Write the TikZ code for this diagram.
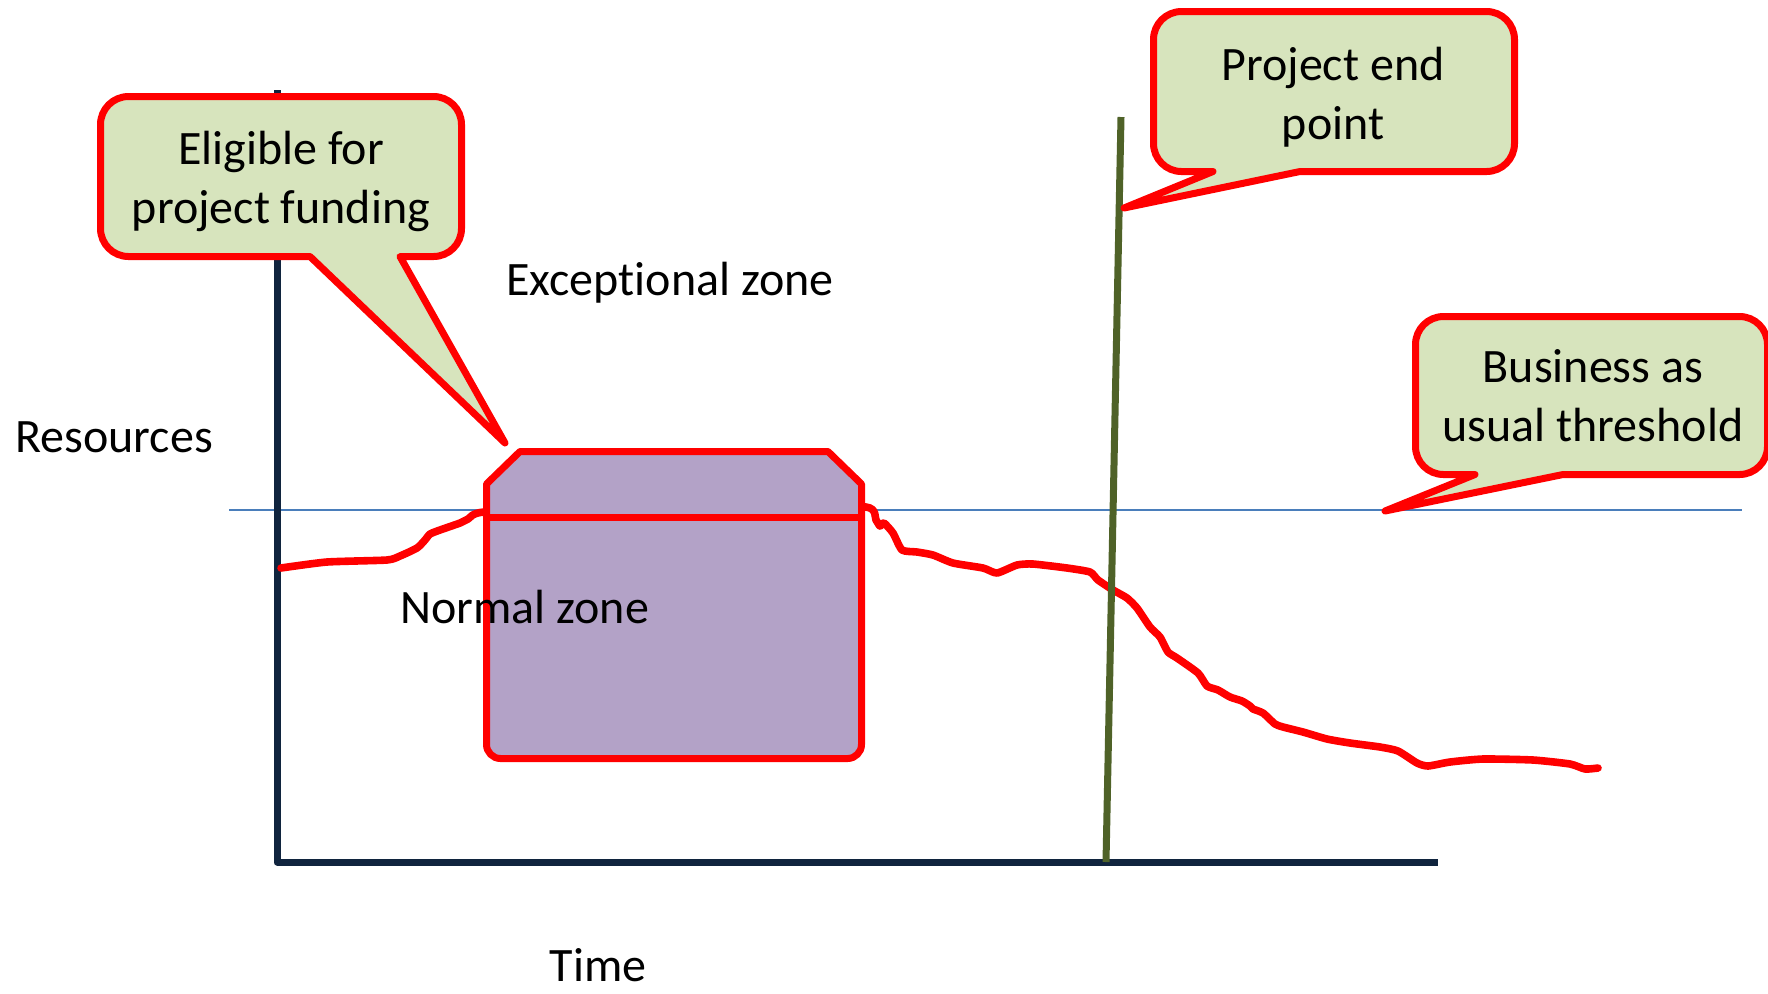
\documentclass[tikz,border=0pt]{standalone}
\usepackage{fontspec}
\setmainfont{Carlito}[Ligatures=NoCommon]

\definecolor{callred}{HTML}{FF0000}
\definecolor{callfill}{HTML}{D7E4BD}
\definecolor{boxfill}{HTML}{B3A2C7}
\definecolor{axisnavy}{HTML}{10243E}
\definecolor{endgreen}{HTML}{4F6228}
\definecolor{baublue}{HTML}{4A7EBB}

\tikzset{
  bubble/.style={draw=callred, fill=callfill, line width=3.5pt, line join=round},
  zonetext/.style={font=\fontsize{24}{29.5}\selectfont, inner sep=0pt},
}

% rounded box with a wedge on its lower side:
% left, top, right, bottom, radius, wedge left x, wedge right x, tip
\newcommand{\callbubble}[8]{%
  \filldraw[bubble] #8 -- (#6,#4) -- (#1+#5,#4)
    arc[start angle=90, end angle=180, radius=#5] -- (#1,#2+#5)
    arc[start angle=180, end angle=270, radius=#5] -- (#3-#5,#2)
    arc[start angle=270, end angle=360, radius=#5] -- (#3,#4-#5)
    arc[start angle=0, end angle=90, radius=#5] -- (#7,#4) -- cycle;
}

\begin{document}
\begin{tikzpicture}[x=0.5pt, y=-0.5pt]
\useasboundingbox (0,0) rectangle (1768,993);
\clip (0,0) rectangle (1768,993);

\coordinate (ytop) at (277,90);
\coordinate (origin) at (277,862);
\coordinate (xend) at (1438,862);
\coordinate (bauleft) at (229,510);
\coordinate (bauright) at (1742,510);
\coordinate (endtop) at (1121,117);
\coordinate (endbot) at (1106,862);

\draw[baublue, line width=1.2pt] (bauleft) -- (bauright);
\draw[axisnavy, line width=3.5pt, line join=round] (ytop) -- (origin) -- (xend);

% resource usage over time
\draw[callred, line width=3.8pt, line join=round, line cap=round]
  plot[smooth, tension=0.35] coordinates {
    (281,568) (327,562) (387,560) (400,556) (417,548) (425,540) (430,534)
    (440,530) (460,523) (468,519) (484,512) (600,508) (760,506)
    (866,507) (876,520) (880,526) (884,523) (893,533) (902,550) (917,552)
    (933,555) (953,563) (983,568) (997,573) (1017,565) (1033,564) (1067,568)
    (1090,572) (1098,580) (1113,590) (1127,598) (1137,608) (1150,627)
    (1160,637) (1168,652) (1177,658) (1198,673) (1207,686) (1218,690)
    (1230,697) (1242,701) (1250,706) (1253,709) (1263,713) (1275,724)
    (1283,727) (1303,732) (1327,739) (1350,743) (1380,747) (1398,751)
    (1417,763) (1428,766) (1450,762) (1483,759) (1533,760) (1570,764)
    (1585,769) (1598,768)};

\draw[endgreen, line width=3.5pt] (endtop) -- (endbot);

% project block
\filldraw[draw=callred, fill=boxfill, line width=3.5pt, line join=round]
  (486.5,484) -- (520,451.5) -- (828,451.5) -- (861.5,484) -- (861.5,744.5)
  arc[start angle=0, end angle=90, radius=14] -- (500.5,758.5)
  arc[start angle=90, end angle=180, radius=14] -- cycle;
\draw[callred, line width=3.5pt] (486.5,517) -- (861.5,517);

\coordinate (fundtip) at (505,443);
\coordinate (endtip) at (1124,208);
\coordinate (bautip) at (1385,511);

\callbubble{100.5}{96.5}{461.5}{256.5}{28}{310}{400}{(fundtip)}
\callbubble{1153.5}{11.5}{1514.5}{171.5}{28}{1213}{1300}{(endtip)}
\callbubble{1415.5}{316.5}{1767.5}{474.5}{28}{1475}{1563}{(bautip)}

\node[zonetext, align=center] (fundtext) at (281,181) {Eligible for\\project funding};
\node[zonetext, align=center] (endtext) at (1333,97) {Project end\\point};
\node[zonetext, align=center] (bautext) at (1593,396) {Business as\\usual threshold};

\node[zonetext, anchor=base west] (exceptional) at (506,295) {Exceptional zone};
\node[zonetext, anchor=base west] (normal) at (400,623) {Normal zone};
\node[zonetext, anchor=base west] (resources) at (15,452) {Resources};
\node[zonetext, anchor=base] (time) at (598,981) {Time};
\end{tikzpicture}
\end{document}
